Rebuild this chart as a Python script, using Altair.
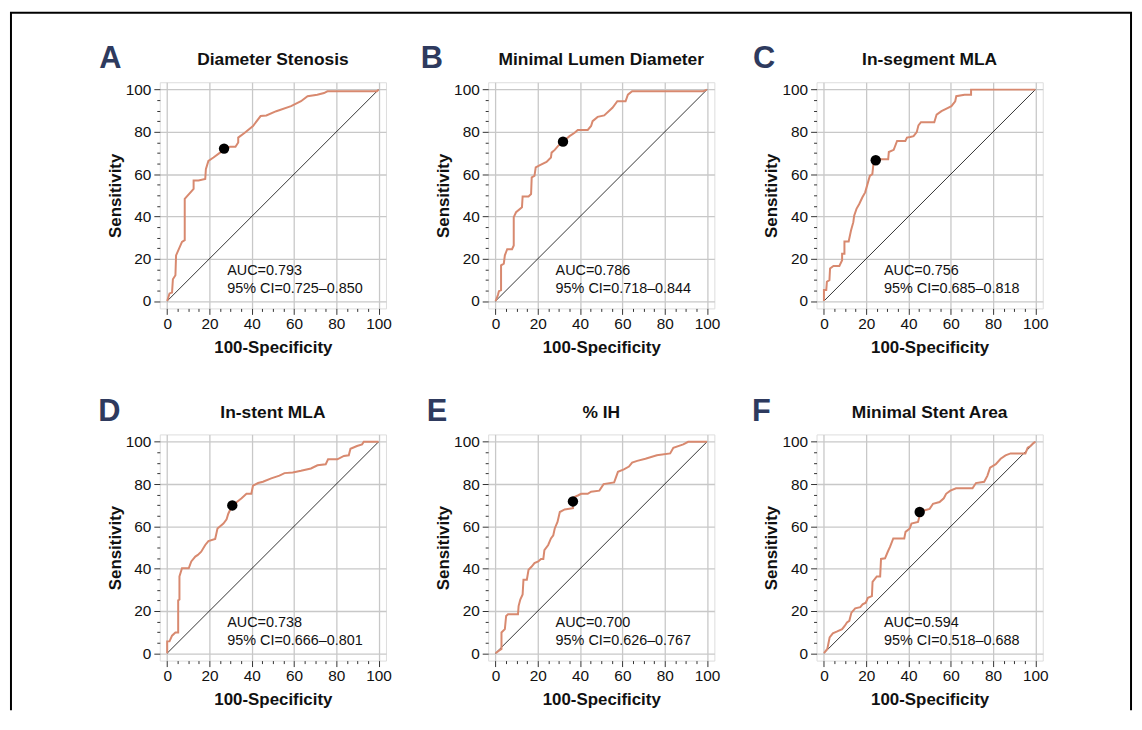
import altair as alt
import pandas as pd

FONT = "Liberation Sans"
CURVE = "#d8896f"
NAVY = "#2e3a5e"

letters = ["A", "B", "C", "D", "E", "F"]
titles = ["Diameter Stenosis", "Minimal Lumen Diameter", "In-segment MLA",
          "In-stent MLA", "% IH", "Minimal Stent Area"]
auc_text = ["AUC=0.793", "AUC=0.786", "AUC=0.756", "AUC=0.738", "AUC=0.700", "AUC=0.594"]
ci_text = ["95% CI=0.725\u20130.850", "95% CI=0.718\u20130.844", "95% CI=0.685\u20130.818",
           "95% CI=0.666\u20130.801", "95% CI=0.626\u20130.767", "95% CI=0.518\u20130.688"]

A_fpr = [0, 1.1, 2.3, 2.7, 3.9, 4.2, 7.0, 8.3, 8.3, 12.5, 12.5, 14.8, 18.0, 18.3, 19.5, 21.9, 25.0, 26.9,
         29.7, 32.3, 33.6, 33.6, 36.7, 40.6, 44.2, 46.9, 51.6, 58.6, 63.3, 66.4, 71.0, 74.2, 75.8, 99.2, 100]
A_sens = [0, 3.6, 4.0, 10.3, 12.2, 21.6, 28.0, 28.8, 48.3, 53.0, 57.0, 57.0, 57.7, 62.4, 66.3, 67.9, 70.2, 72.1,
          73.0, 73.0, 75.0, 77.3, 79.6, 82.8, 87.5, 87.8, 89.8, 92.2, 94.5, 96.9, 97.6, 98.4, 99.2, 99.2, 100]

B_fpr = [0, 1.1, 1.6, 2.6, 2.6, 3.9, 4.4, 5.0, 5.5, 7.8, 8.6, 8.6, 9.7, 12.5, 12.8, 15.6, 16.8, 17.1, 18.4,
         19.0, 21.0, 24.1, 26.2, 26.5, 28.0, 29.6, 31.9, 35.0, 37.4, 38.9, 43.6, 45.2, 45.9, 48.3, 51.4, 55.3,
         57.6, 61.5, 62.6, 64.6, 98.1, 100]
B_sens = [0, 2.8, 4.7, 5.2, 16.9, 17.7, 21.6, 23.2, 24.5, 24.5, 26.3, 39.7, 42.0, 44.4, 49.5, 49.5, 50.6, 58.5,
          59.2, 63.2, 64.3, 65.8, 67.9, 70.2, 71.5, 73.4, 75.4, 78.0, 79.6, 80.9, 80.9, 82.8, 85.1, 87.1, 87.8,
          91.4, 94.5, 94.5, 97.6, 99.2, 99.2, 100]

C_fpr = [0, 0, 1.1, 1.4, 2.6, 2.9, 4.5, 7.3, 8.6, 8.6, 9.7, 9.7, 11.7, 12.8, 13.9, 14.3, 15.4, 16.7, 18.2,
         19.5, 20.6, 21.7, 22.9, 23.4, 24.5, 26.0, 30.4, 30.7, 33.0, 34.6, 38.5, 39.3, 40.8, 42.4, 43.9, 44.7,
         45.9, 52.2, 53.3, 55.6, 58.7, 60.3, 62.1, 62.6, 66.5, 69.6, 69.6, 100]
C_sens = [0, 5.2, 5.2, 9.1, 9.9, 15.4, 16.6, 16.6, 19.3, 22.4, 22.4, 28.2, 28.2, 33.4, 37.3, 40.4, 43.6, 45.9,
          49.1, 51.4, 55.3, 59.2, 60.0, 64.7, 66.6, 67.1, 67.1, 70.5, 71.5, 75.7, 75.7, 77.3, 77.6, 78.0, 79.9,
          83.1, 84.6, 84.6, 88.2, 89.8, 91.4, 92.2, 94.5, 96.9, 97.6, 97.6, 100, 100]

D_fpr = [0, 0, 1.1, 2.3, 3.9, 5.2, 5.2, 5.8, 5.8, 7.0, 10.2, 11.4, 13.3, 14.5, 16.1, 18.0, 19.5, 22.7, 23.8,
         26.6, 28.1, 28.9, 30.8, 32.8, 35.2, 37.5, 39.8, 40.6, 43.0, 45.3, 49.2, 53.1, 55.5, 59.4, 63.3, 68.0,
         71.1, 75.0, 76.1, 80.5, 83.6, 85.9, 86.7, 89.8, 92.2, 93.0, 100]
D_sens = [0, 5.6, 5.6, 8.3, 9.8, 9.8, 25.0, 25.4, 36.3, 40.2, 40.2, 43.4, 45.7, 46.5, 48.0, 51.2, 53.0, 54.0,
          59.0, 61.3, 63.3, 66.0, 69.9, 71.4, 73.3, 75.4, 75.4, 79.3, 80.5, 81.1, 82.7, 84.0, 85.2, 85.5, 86.3,
          87.4, 88.9, 89.4, 91.7, 91.7, 93.3, 93.6, 96.7, 98.0, 98.8, 100, 100]

E_fpr = [0, 1.6, 2.8, 2.8, 4.4, 5.0, 5.9, 10.6, 10.9, 11.7, 12.8, 13.2, 14.8, 15.6, 17.1, 18.4, 20.2, 21.5,
         22.6, 23.1, 24.9, 26.2, 27.3, 28.0, 29.3, 30.4, 32.7, 36.6, 36.6, 37.1, 38.9, 40.5, 43.6, 45.2, 49.1,
         51.1, 56.1, 57.9, 60.7, 63.1, 64.6, 67.0, 70.9, 76.3, 82.6, 84.1, 88.8, 91.1, 100]
E_sens = [0, 1.2, 2.0, 9.8, 11.4, 17.6, 18.4, 18.4, 22.3, 25.4, 27.8, 34.8, 34.8, 39.5, 41.0, 42.6, 43.4, 44.6,
          44.6, 48.8, 51.2, 54.3, 55.8, 59.0, 62.1, 66.8, 68.0, 68.6, 71.8, 73.8, 74.6, 75.4, 75.4, 76.4, 76.9,
          80.0, 80.8, 85.8, 87.0, 88.3, 90.2, 91.0, 92.0, 93.6, 94.5, 97.2, 98.8, 100, 100]

F_fpr = [0, 1.6, 2.7, 4.2, 6.3, 8.6, 9.8, 10.9, 12.0, 13.0, 14.8, 17.2, 18.3, 19.8, 20.8, 22.7, 23.0, 25.0,
         26.6, 27.0, 28.9, 30.2, 31.3, 32.8, 38.0, 38.6, 40.6, 41.4, 44.5, 45.3, 45.5, 47.7, 50.0, 51.6, 54.7,
         56.7, 57.8, 59.8, 62.5, 70.3, 71.9, 75.8, 77.3, 78.6, 81.3, 83.6, 85.9, 88.3, 95.3, 96.4, 97.7, 99.2, 100]
F_sens = [0, 2.0, 7.5, 9.4, 10.3, 11.4, 12.9, 14.5, 15.3, 19.2, 21.2, 21.8, 23.1, 23.9, 26.2, 27.0, 33.7, 36.3,
          36.3, 44.6, 44.9, 48.0, 50.4, 54.3, 54.3, 57.4, 59.0, 61.3, 62.1, 65.2, 66.8, 67.6, 68.3, 70.7, 71.5,
          73.3, 75.4, 76.9, 78.0, 78.0, 80.5, 81.1, 83.9, 87.8, 89.4, 92.0, 93.6, 94.5, 94.5, 97.2, 98.0, 99.5, 100]

curves_fpr = [A_fpr, B_fpr, C_fpr, D_fpr, E_fpr, F_fpr]
curves_sens = [A_sens, B_sens, C_sens, D_sens, E_sens, F_sens]

cut_fpr = [26.9, 31.9, 24.5, 30.8, 36.6, 45.3]
cut_sens = [72.1, 75.4, 66.6, 69.9, 71.8, 66.8]

diag = [0, 100]
tick_values = list(range(0, 101, 5))
domain = [-3.5, 103.5]

# styling: size of each panel and left offset of each panel letter (px)
W = 228
H = 228
LETTER_DX = [-61, -68, -64, -62, -62, -65]


def make_axis(title, orient):
    return alt.Axis(
        title=title,
        values=tick_values,
        labelExpr="datum.value % 20 === 0 ? datum.label : ''",
        tickSize={"condition": {"test": "datum.value % 20 === 0", "value": 6}, "value": 3},
        gridOpacity={"condition": {"test": "datum.value % 20 === 0", "value": 1}, "value": 0},
        grid=True,
        gridColor="#c8c8c8",
        gridWidth=1.3,
        domain=False,
        tickColor="#333333",
        tickWidth=1,
        labelFont=FONT,
        labelFontSize=15.5,
        labelColor="#111111",
        labelPadding=3 if orient == "left" else 2,
        titleFont=FONT,
        titleFontSize=17,
        titleFontWeight="bold",
        titleColor="#111111",
        titlePadding=1 if orient == "left" else 8,
    )


xaxis = make_axis("100-Specificity", "bottom")
yaxis = make_axis("Sensitivity", "left")
xs = alt.Scale(domain=domain, nice=False, zero=False)
ys = alt.Scale(domain=domain, nice=False, zero=False)


def XY():
    return dict(x=alt.X("fpr:Q", scale=xs, axis=xaxis), y=alt.Y("sens:Q", scale=ys, axis=yaxis))


def panel(i, with_border=False):
    df = pd.DataFrame({"fpr": curves_fpr[i], "sens": curves_sens[i],
                       "order": list(range(len(curves_fpr[i])))})
    ddf = pd.DataFrame({"fpr": diag, "sens": diag})
    pdf = pd.DataFrame({"fpr": [cut_fpr[i]], "sens": [cut_sens[i]]})

    diag_line = alt.Chart(ddf).mark_line(color="black", strokeWidth=0.8).encode(**XY())
    curve = alt.Chart(df).mark_line(color=CURVE, strokeWidth=2).encode(order="order:Q", **XY())
    point = alt.Chart(pdf).mark_circle(size=110, color="black", opacity=1).encode(**XY())

    auc = alt.Chart(alt.Data(values=[{"t": auc_text[i]}])).mark_text(
        align="left", baseline="alphabetic", font=FONT, fontSize=14.5, color="#111111"
    ).encode(text="t:N", x=alt.value(68), y=alt.value(194))
    ci = alt.Chart(alt.Data(values=[{"t": ci_text[i]}])).mark_text(
        align="left", baseline="alphabetic", font=FONT, fontSize=14.5, color="#111111"
    ).encode(text="t:N", x=alt.value(68), y=alt.value(212))
    ttl = alt.Chart(alt.Data(values=[{"t": titles[i]}])).mark_text(
        align="center", baseline="alphabetic", font=FONT, fontSize=17.5, fontWeight="bold", color="#111111"
    ).encode(text="t:N", x=alt.value(W / 2), y=alt.value(-17))
    let = alt.Chart(alt.Data(values=[{"t": letters[i]}])).mark_text(
        align="left", baseline="alphabetic", font=FONT, fontSize=31, fontWeight="bold", color=NAVY
    ).encode(text="t:N", x=alt.value(LETTER_DX[i]), y=alt.value(-14))

    layers = [diag_line, curve, point, auc, ci, ttl, let]
    if with_border:
        bd = alt.Chart(alt.Data(values=[{"k": 0}]))
        left = bd.mark_rule(color="black", strokeWidth=2).encode(
            x=alt.value(-150), y=alt.value(-70), y2=alt.value(633))
        top = bd.mark_rule(color="black", strokeWidth=2).encode(
            x=alt.value(-151), x2=alt.value(980), y=alt.value(-70))
        right = bd.mark_rule(color="black", strokeWidth=2).encode(
            x=alt.value(979), y=alt.value(-70), y2=alt.value(633))
        layers += [left, top, right]
    return alt.layer(*layers).properties(width=W, height=H)


panels = [panel(i, with_border=(i == 0)) for i in range(6)]

chart = alt.concat(
    *panels, columns=3, spacing={"row": 127, "column": 103}, bounds="flush"
).properties(
    padding={"left": 0, "top": 0, "right": 0, "bottom": 0}
).configure_view(
    stroke="#444444", strokeWidth=1.2
).configure(background="white")

chart.save("out.html", embed_options={"renderer": "svg", "actions": False})
